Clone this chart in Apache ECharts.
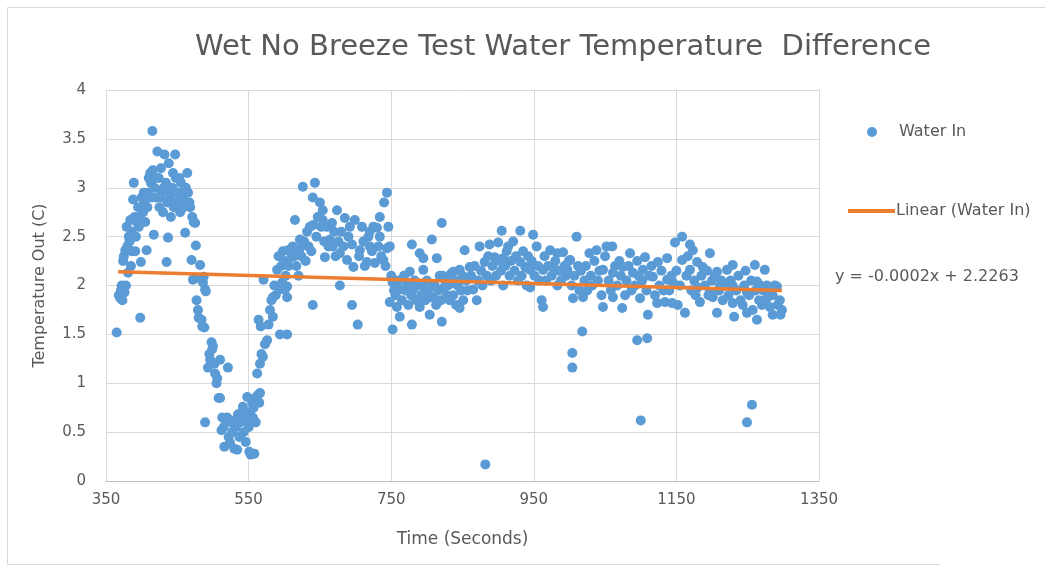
<!DOCTYPE html>
<html>
<head>
<meta charset="utf-8">
<title>Wet No Breeze Test Water Temperature Difference</title>
<script src="https://cdn.jsdelivr.net/npm/echarts@6/dist/echarts.min.js"></script>
<style>
  html, body { margin: 0; padding: 0; background: #fff; }
  #chart { width: 1045px; height: 571px; }
</style>
</head>
<body>
<div id="chart"></div>
<script>
// [time (s), temperature difference (C)], split by phase
const warmUp = [
  [365,1.52],[368,1.9],[370,1.87],[371,1.95],[372,2.0],[373,1.85],[374,2.25],[375,2.3],[376,1.93],[377,2.36],
  [378,2.0],[379,2.6],[380,2.4],[381,2.13],[382,2.5],[383,2.45],[384,2.67],[385,2.2],[386,2.55],[388,2.88],
  [389,3.05],[390,2.7],[391,2.35],[393,2.65],[395,2.8],[396,2.6],[398,1.67],[399,2.24],[400,2.9],[402,2.75],
  [404,2.85],[405,2.65],[407,2.36],[409,2.95],[410,3.1],[412,3.15],[414,2.9],[415,3.58],[416,3.18],[417,2.52],
  [418,3.0],[420,2.9],[422,3.37],[424,3.1],[425,2.8],[427,3.2],[428,2.95],[430,2.75],[432,3.34],[434,3.05],
  [435,2.24],[436,2.85],[437,2.49],[438,3.25],[440,2.9],[441,2.7],[443,3.0],[445,2.8],[447,3.34],[448,3.1],
  [450,2.85],[452,2.95],[454,2.75],[455,3.05],[457,2.9],[459,2.8],[461,2.54],[462,3.0],[464,3.15],[465,2.95],
  [467,2.85],[468,2.8],[470,2.26],[471,2.7],[472,2.06],[473,2.65],[475,2.64],[476,2.41],[477,1.85],[478,2.08],
  [479,1.75],[480,1.67],[482,2.21],[484,1.65],[485,1.58],[486,2.03],[487,2.09],[488,1.57],[489,1.96],[490,1.94],
  [403,2.95],[408,2.8],[413,3.05],[419,3.1],[426,2.9],[431,3.0],[439,2.95],[444,3.15],[449,2.95],[453,3.1],
  [458,2.95],[463,2.85],[386,2.35],[392,2.5],[397,2.7]
];

const dip = [
  [489,0.6],[493,1.16],[495,1.3],[496,1.24],[498,1.42],[499,1.35],[500,1.38],[502,1.2],[503,1.1],[505,1.0],
  [506,1.05],[508,0.85],[510,0.85],[510,1.24],[512,0.52],[513,0.65],[515,0.55],[516,0.35],[518,0.6],[520,0.65],
  [521,1.16],[522,0.45],[524,0.39],[525,0.62],[527,0.5],[528,0.59],[530,0.33],[532,0.55],[534,0.32],[535,0.68],
  [537,0.45],[538,0.6],[540,0.7],[542,0.76],[543,0.5],[545,0.62],[546,0.4],[548,0.86],[549,0.7],[550,0.55],
  [551,0.3],[552,0.7],[553,0.27],[554,0.62],[555,0.8],[556,0.65],[557,0.75],[558,0.28],[559,0.85],[560,0.6],
  [562,1.1],[563,0.88],[564,1.65],[565,0.8],[566,1.2],[566,0.9],[567,1.58],[568,1.3],[570,1.27],[571,2.06],[573,1.4]
];

const recovery = [
  [576,1.44],[578,1.6],[580,1.75],[582,1.85],[584,1.68],[584,1.88],[586,2.0],[588,1.9],[590,2.16],[592,2.3],
  [594,1.96],[594,1.5],[596,2.2],[597,2.03],[598,2.35],[600,2.25],[601,1.96],[602,2.1],[604,1.88],[604,1.5],
  [604,1.99],[605,2.36],[606,2.2],[608,2.36],[610,2.29],[612,2.4],[614,2.3],[615,2.67],[617,2.2],[619,2.35],
  [620,2.1],[622,2.38],[622,2.47],[624,2.3],[626,3.01],[628,2.45],[630,2.25],[632,2.55],[634,2.4],[636,2.6],
  [638,2.35],[640,2.9],[640,1.8],[641,2.62],[643,3.05],[645,2.5],[647,2.7],[650,2.85],[652,2.6],[654,2.77],
  [654,2.67],[656,2.45],[657,2.29],[660,2.6],[662,2.4],[664,2.47],[667,2.64],[668,2.4],[670,2.55],[672,2.3],
  [674,2.77],[676,2.45],[678,2.33],[678,2.0],[680,2.55],[683,2.4],[685,2.69],[688,2.26],[690,2.5],[692,2.6],
  [695,2.42],[695,1.8],[697,2.19],[699,2.67],[703,1.6],[705,2.3],[706,2.36],[709,2.6],[711,2.45],[713,2.2],
  [716,2.24],[718,2.5],[720,2.55],[720,2.4],[723,2.35],[725,2.6],[727,2.23],[730,2.59],[732,2.4],[734,2.7],
  [734,2.5],[736,2.3],[739,2.26],[740,2.85],[742,2.2],[744,2.95],[744,2.38],[746,2.6],[748,2.4],[748,1.83],
  [750,2.1],[752,2.03],[752,1.55],[754,1.95],[756,1.9],[758,1.78],[760,2.05],[762,1.96],[762,1.68]
];

const plateau = [
  [765,1.85],[768,2.1],[770,1.95],[772,2.03],[774,1.8],[776,2.14],[778,1.9],[779,2.42],[779,1.6],[781,1.96],
  [783,2.05],[785,1.85],[787,2.0],[790,2.33],[790,1.78],[792,1.9],[795,2.28],[795,2.16],[795,1.99],[798,1.85],
  [800,2.05],[802,1.95],[804,1.7],[806,1.88],[807,2.47],[809,1.88],[811,2.0],[813,1.8],[814,2.28],[816,1.95],
  [818,2.1],[820,1.85],[821,2.64],[821,1.63],[822,2.1],[824,1.98],[826,2.05],[828,1.9],[830,2.0],[832,1.85],
  [834,2.12],[837,1.9],[837,2.14],[839,2.05],[841,1.8],[843,2.0],[846,2.16],[846,1.77],[848,1.95],[850,2.1],
  [851,1.85],[853,2.36],[855,2.05],[857,1.95],[860,2.19],[862,2.1],[865,1.96],[867,2.2],[870,1.85],[872,2.05],
  [874,2.4],[876,2.15],[878,2.0],[881,2.24],[882,0.17],[884,2.1],[886,2.3],[888,2.42],[890,2.05],[892,2.2],
  [895,2.29],[897,2.1],[900,2.44],[902,2.25],[904,2.15],[905,2.56],[907,2.28],[907,2.0],[910,2.2],[912,2.35],
  [914,2.4],[916,2.1],[918,2.25],[921,2.45],[923,2.15],[925,2.3],[928,2.05],[931,2.56],[931,2.24],[933,2.1],
  [935,2.35],[938,2.19],[940,2.0],[942,2.3],[945,2.16],[945,1.98],[947,2.25],[949,2.52],[951,2.1],[954,2.4],
  [956,2.2],[958,2.05],[961,1.85],[963,2.16],[963,1.78],[965,2.3],[967,2.05],[970,2.2],[973,2.36],[975,2.1],
  [977,2.19],[980,2.25],[983,2.33],[983,2.0],[985,2.15],[988,2.05],[991,2.34],[993,2.2],[995,2.1],[997,2.16],
  [999,2.25],[1001,2.26],[1003,2.0],[1004,1.31],[1004,1.16],[1005,1.87],[1007,2.1],[1010,2.5],[1012,2.2],[1014,1.95],
  [1016,2.15],[1018,1.53],[1019,1.88],[1021,2.05],[1023,2.2],[1025,1.95],[1028,2.33],[1030,2.1],[1032,2.0],[1035,2.25],
  [1038,2.36],[1040,2.05],[1042,2.15],[1045,1.9],[1047,1.78],[1047,2.16],[1050,2.3],[1052,2.4]
];

const tail = [
  [1055,2.05],[1058,1.95],[1060,2.4],[1061,2.13],[1061,1.88],[1064,2.2],[1067,2.0],[1070,2.25],[1072,2.1],[1074,1.77],
  [1075,2.19],[1078,1.9],[1080,2.05],[1083,2.2],[1085,2.33],[1087,1.95],[1089,2.13],[1092,2.0],[1095,1.44],[1095,2.25],
  [1097,2.1],[1099,1.87],[1100,0.62],[1102,2.05],[1103,2.16],[1106,2.29],[1108,1.95],[1109,1.46],[1110,1.7],[1112,2.1],
  [1115,2.2],[1117,2.09],[1120,1.9],[1123,1.82],[1124,2.24],[1126,2.0],[1129,2.15],[1132,1.95],[1134,1.83],[1137,2.28],
  [1137,2.06],[1140,1.95],[1143,2.1],[1145,2.03],[1144,1.82],[1148,2.44],[1150,2.15],[1152,1.8],[1155,2.0],[1158,2.5],
  [1158,2.26],[1162,1.72],[1164,2.1],[1166,2.3],[1169,2.42],[1169,2.16],[1171,1.95],[1173,2.36],[1175,2.05],[1177,1.9],
  [1179,2.24],[1180,1.98],[1183,1.83],[1185,2.1],[1187,2.19],[1190,2.0],[1193,2.15],[1195,1.9],[1197,2.33],[1197,1.93],
  [1200,2.05],[1201,1.88],[1204,2.1],[1207,2.14],[1207,1.72],[1210,1.95],[1211,1.99],[1213,2.05],[1215,1.85],[1218,2.0],
  [1221,2.16],[1223,1.9],[1226,2.05],[1229,2.21],[1229,2.0],[1229,1.82],[1231,1.68],[1234,1.95],[1237,2.1],[1240,1.85],
  [1243,1.8],[1245,2.0],[1247,2.15],[1249,1.93],[1249,1.72],[1249,0.6],[1252,1.9],[1255,2.05],[1256,0.78],[1257,1.75],
  [1260,2.21],[1261,1.95],[1263,2.04],[1263,1.65],[1266,1.85],[1268,2.0],[1270,1.8],[1272,1.95],[1274,2.16],[1277,2.0],
  [1277,1.87],[1280,1.9],[1281,1.78],[1284,1.95],[1285,1.7],[1285,1.9],[1288,2.0],[1291,1.99],[1292,1.8],[1295,1.85],
  [1296,1.7],[1298,1.75]
];

// Excel linear trendline, ends as drawn
const trendLine = [[367, 2.14], [1298, 1.95]]
const equationText = 'y = -0.0002x + 2.2263'

const waterIn = [].concat(warmUp, dip, recovery, plateau, tail)

const TXT = '#595959'
const FONT = 'DejaVu Sans, sans-serif'

const chart = echarts.init(document.getElementById('chart'))
chart.setOption({
  animation: false,
  backgroundColor: '#fff',
  title: {
    text: 'Wet No Breeze Test Water Temperature  Difference',
    left: 558, top: 28, textAlign: 'center',
    textStyle: { color: TXT, fontFamily: FONT, fontWeight: 'normal', fontSize: 29 },
  },
  legend: [
    {
      data: ['Water In'],
      left: 862, top: 119,
      icon: 'circle', itemWidth: 10, itemHeight: 10,
      textStyle: { color: TXT, fontFamily: FONT, fontSize: 16, padding: [0, 0, 0, 17] },
    },
    {
      data: ['Linear (Water In)'],
      left: 843, top: 198,
      icon: 'rect', itemWidth: 47, itemHeight: 4, itemGap: 0,
      textStyle: { color: TXT, fontFamily: FONT, fontSize: 16, padding: [0, 0, 0, -4] },
    },
  ],
  grid: { left: 106, right: 226, top: 90, bottom: 90 },
  xAxis: {
    type: 'value',
    min: 350, max: 1350, interval: 200,
    name: 'Time (Seconds)', nameLocation: 'middle', nameGap: 50,
    nameTextStyle: { color: TXT, fontFamily: FONT, fontSize: 17 },
    axisLine: { lineStyle: { color: '#bfbfbf' } },
    axisTick: { show: false },
    axisLabel: { color: TXT, fontFamily: FONT, fontSize: 15, margin: 12, formatter: v => String(v) },
    splitLine: { lineStyle: { color: '#d9d9d9' } },
  },
  yAxis: {
    type: 'value',
    min: 0, max: 4, interval: 0.5,
    name: 'Temperature Out (C)', nameLocation: 'middle', nameGap: 58,
    nameTextStyle: { color: TXT, fontFamily: FONT, fontSize: 16 },
    axisLine: { show: true, lineStyle: { color: '#d9d9d9' } },
    axisTick: { show: false },
    axisLabel: { color: TXT, fontFamily: FONT, fontSize: 15, margin: 20 },
    splitLine: { lineStyle: { color: '#d9d9d9' } },
  },
  series: [
    {
      name: 'Water In',
      type: 'scatter',
      data: waterIn,
      symbolSize: 10,
      itemStyle: { color: '#5b9bd5', opacity: 1 },
      z: 2,
    },
    {
      name: 'Linear (Water In)',
      type: 'line',
      data: trendLine,
      symbol: 'none',
      lineStyle: { color: '#ed7d31', width: 3.5 },
      itemStyle: { color: '#ed7d31' },
      z: 3,
    },
  ],
  graphic: [
    {
      type: 'polyline',
      shape: { points: [[1045, 7.5], [7.5, 7.5], [7.5, 564.5], [940, 564.5]] },
      style: { fill: 'none', stroke: '#d9d9d9', lineWidth: 1 },
      silent: true,
    },
    {
      type: 'text',
      left: 835, top: 269,
      style: { text: equationText, fill: TXT, font: '16px ' + FONT },
    },
  ],
})
</script>
</body>
</html>
